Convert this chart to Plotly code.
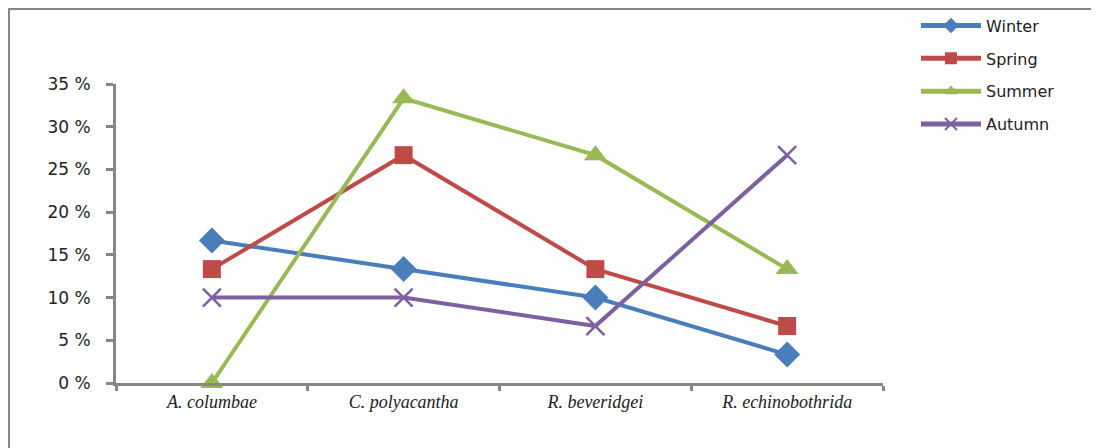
import plotly.graph_objects as go

categories = ["A. columbae", "C. polyacantha", "R. beveridgei", "R. echinobothrida"]
winter = [16.67, 13.33, 10.0, 3.33]
spring = [13.33, 26.67, 13.33, 6.67]
summer = [0.0, 33.33, 26.67, 13.33]
autumn = [10.0, 10.0, 6.67, 26.67]
y_ticks = [0, 5, 10, 15, 20, 25, 30, 35]

cat_labels = [f"<i>{c}</i>" for c in categories]

series = [
    ("Winter", winter, "#4A7EBB", dict(symbol="diamond", size=20)),
    ("Spring", spring, "#BE4B48", dict(symbol="square", size=18)),
    ("Summer", summer, "#98B954", dict(symbol="triangle-up", size=20)),
    ("Autumn", autumn, "#7D60A0", dict(symbol="x-thin", size=18)),
]

fig = go.Figure()
for name, vals, color, mk in series:
    marker = dict(color=color, **mk)
    if mk["symbol"] == "x-thin":
        marker["line"] = dict(color=color, width=2.5)
    else:
        marker["line"] = dict(width=0)
    fig.add_trace(go.Scatter(
        x=cat_labels, y=vals, name=name, mode="lines+markers",
        line=dict(color=color, width=4), marker=marker,
        legendgroup=name, cliponaxis=False,
    ))

axis_col = "#868686"
sans = "DejaVu Sans, Verdana, sans-serif"
# figure is drawn 8px in from the page edge (default body margin)
W, H = 1091, 440
fig.update_layout(
    width=W, height=H,
    margin=dict(l=108, r=216, t=76, b=65, autoexpand=False),
    paper_bgcolor="white", plot_bgcolor="white",
    showlegend=True,
    legend=dict(x=1.043, y=1.252, xanchor="left", yanchor="top",
                font=dict(family=sans, size=16, color="#222"),
                traceorder="grouped", tracegroupgap=9, itemwidth=60,
                itemsizing="constant",
                bgcolor="rgba(0,0,0,0)"),
    xaxis=dict(type="category", range=[-0.5, len(categories) - 0.5],
               showline=True, linecolor=axis_col, linewidth=3,
               ticks="outside", tickson="boundaries", ticklen=5, tickwidth=3,
               tickcolor=axis_col, showgrid=False, zeroline=False, automargin=False,
               tickfont=dict(family="Liberation Serif, Times New Roman, serif", size=18, color="#222")),
    yaxis=dict(range=[0, 35], tickvals=y_ticks, ticktext=[f"{v} %" for v in y_ticks],
               showline=True, linecolor=axis_col, linewidth=3, ticks="outside", ticklen=7,
               tickwidth=3, tickcolor=axis_col, showgrid=False, zeroline=False,
               ticklabelstandoff=12, automargin=False,
               tickfont=dict(family=sans, size=17, color="#222")),
    shapes=[
        dict(type="line", xref="paper", yref="paper", x0=-0.1402, x1=1.4, y0=1.2525, y1=1.2525,
             line=dict(color=axis_col, width=3)),
        dict(type="line", xref="paper", yref="paper", x0=-0.1402, x1=-0.1402, y0=1.2525, y1=-0.3,
             line=dict(color=axis_col, width=3)),
    ],
)

fig.write_html("out.html")
